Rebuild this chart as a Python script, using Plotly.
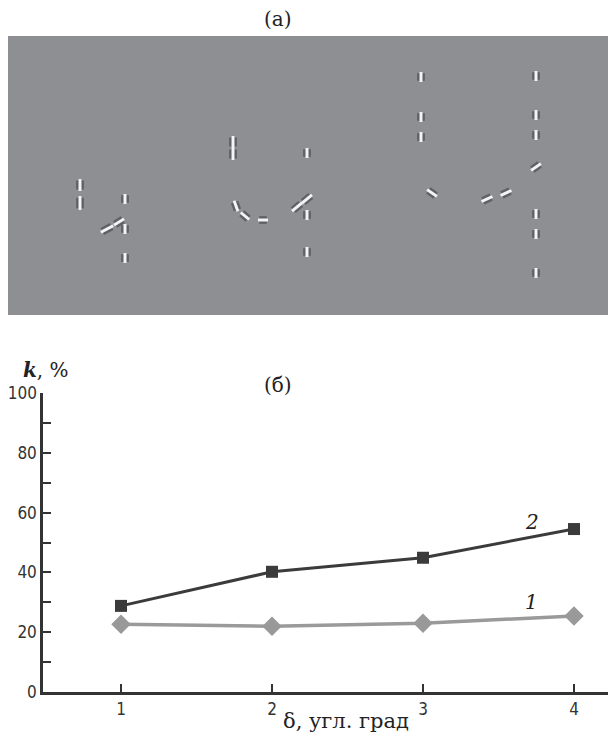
import math
import plotly.graph_objects as go

# ---- chart (б) data ----
delta = [1, 2, 3, 4]
k_curve1 = [22.7, 22.0, 23.0, 25.4]
k_curve2 = [28.8, 40.2, 44.9, 54.5]
y_ticks = [0, 20, 40, 60, 80, 100]
y_minor = [10, 30, 50, 70, 90]

# ---- stimulus (a): Gabor element centres (image px), orientation (deg), length ----
gab_x = [80, 80, 125, 125, 125, 107, 119,
         233, 233, 307, 307, 307, 236, 245, 263, 297, 307,
         421, 421, 421, 536, 536, 536, 536, 536, 536, 536, 432, 487, 506]
gab_y = [185, 203, 199, 229, 258, 229, 222,
         142, 154, 153, 215, 252, 206, 216, 220, 207, 199,
         77, 117, 137, 76, 115, 135, 167, 214, 234, 273, 193, 199, 193]
gab_ang = [90, 90, 90, 90, 90, 28, 32,
           90, 90, 90, 90, 90, -70, -40, 0, 40, 40,
           90, 90, 90, 90, 90, 90, 35, 90, 90, 90, -35, 25, 25]
gab_len = [12, 14, 10, 10, 10, 14, 12,
           12, 12, 10, 10, 10, 11, 11, 10, 13, 13,
           10, 10, 10, 10, 10, 10, 12, 10, 10, 10, 12, 12, 12]

W, H, OFF = 616, 736, 8  # page body offset


def px(sx):
    return (sx - OFF) / W


def py(sy):
    return 1 - (sy - OFF) / H


fig = go.Figure()

# --- Gabor patches ---
core_x, core_y, fl_x, fl_y = [], [], [], []
for cx, cy, th, L in zip(gab_x, gab_y, gab_ang, gab_len):
    t = math.radians(th)
    dx, dy = math.cos(t), -math.sin(t)
    ox, oy = math.sin(t), math.cos(t)
    h = L / 2
    core_x += [cx - h * dx, cx + h * dx, None]
    core_y += [cy - h * dy, cy + h * dy, None]
    for s in (-2.7, 2.7):
        hf = h * 0.75
        fl_x += [cx + s * ox - hf * dx, cx + s * ox + hf * dx, None]
        fl_y += [cy + s * oy - hf * dy, cy + s * oy + hf * dy, None]

fig.add_trace(go.Scatter(x=fl_x, y=fl_y, mode="lines", xaxis="x2", yaxis="y2",
                         line=dict(color="#606165", width=2.4), hoverinfo="skip",
                         showlegend=False))
fig.add_trace(go.Scatter(x=core_x, y=core_y, mode="lines", xaxis="x2", yaxis="y2",
                         line=dict(color="#f4f4f4", width=2.8), hoverinfo="skip",
                         showlegend=False))

# --- chart lines ---
fig.add_trace(go.Scatter(x=delta, y=k_curve1, mode="lines+markers", xaxis="x", yaxis="y",
                         line=dict(color="#9a9a9a", width=3.5),
                         marker=dict(symbol="diamond", size=15, color="#999999"),
                         showlegend=False, cliponaxis=False))
fig.add_trace(go.Scatter(x=delta, y=k_curve2, mode="lines+markers", xaxis="x", yaxis="y",
                         line=dict(color="#3b3b3b", width=3),
                         marker=dict(symbol="square", size=12, color="#3b3b3b"),
                         showlegend=False, cliponaxis=False))

tick_font = dict(family="DejaVu Sans Condensed, Liberation Sans Narrow, Liberation Sans",
                 size=17, color="#333333")
serif = "DejaVu Serif, Liberation Serif, serif"
ann_font = dict(family=serif, size=20, color="#222222")

# chart (б) plot area in screen px
ax_left, ax_top, ax_bottom = 43, 393, 692
x1_px, x_step = 121, 151
x_lo = 1 - (x1_px - ax_left) / x_step
x_hi = x_lo + (W + OFF - ax_left) / x_step

fig.update_layout(
    width=W, height=H,
    margin=dict(l=0, r=0, t=0, b=0, pad=0),
    paper_bgcolor="white", plot_bgcolor="white",
    xaxis=dict(domain=[px(ax_left), 1], range=[x_lo, x_hi], tickvals=delta,
               ticks="inside", ticklen=8, tickwidth=2, tickcolor="#333333",
               showline=True, linewidth=2.5, linecolor="#333333", automargin=False,
               showgrid=False, zeroline=False, tickfont=tick_font),
    yaxis=dict(domain=[py(ax_bottom), py(ax_top)], range=[0, 100], tickvals=y_ticks,
               ticks="inside", ticklen=8, tickwidth=2, tickcolor="#333333",
               minor=dict(tickvals=y_minor, ticks="inside", ticklen=8,
                          tickwidth=2, tickcolor="#333333"),
               showline=True, linewidth=2.5, linecolor="#333333", automargin=False,
               showgrid=False, zeroline=False, tickfont=tick_font),
    xaxis2=dict(domain=[0, 1], range=[OFF, W + OFF], visible=False, fixedrange=True,
                automargin=False),
    yaxis2=dict(domain=[py(315), py(36)], range=[315, 36], visible=False, fixedrange=True,
                automargin=False),
    shapes=[dict(type="rect", xref="x2 domain", yref="y2 domain", x0=0, x1=1, y0=0, y1=1,
                 fillcolor="#8e8f93", line=dict(width=0), layer="below")],
    annotations=[
        dict(text="(a)", x=px(278), y=py(19), font=ann_font),
        dict(text="(б)", x=px(278), y=py(385), font=ann_font),
        dict(text="<b><i>k</i></b>, %", x=px(46), y=py(370),
             font=dict(family=serif, size=20, color="#222222")),
        dict(text="δ, угл. град", x=px(346), y=py(721),
             font=dict(family=serif, size=21, color="#222222")),
        dict(text="<i>2</i>", x=px(532), y=py(522),
             font=dict(family=serif, size=20, color="#222222")),
        dict(text="<i>1</i>", x=px(531), y=py(602),
             font=dict(family=serif, size=20, color="#222222")),
    ],
)
fig.update_annotations(xref="paper", yref="paper", xanchor="center", yanchor="middle",
                       showarrow=False)

fig.write_html("out.html")
